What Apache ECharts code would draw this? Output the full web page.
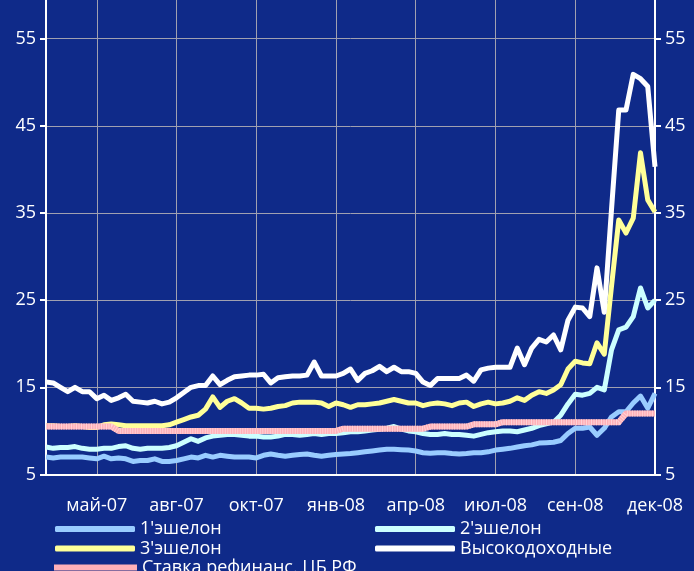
<!DOCTYPE html>
<html>
<head>
<meta charset="utf-8">
<script src="https://cdn.jsdelivr.net/npm/echarts@6/dist/echarts.min.js"></script>
<style>
html,body{margin:0;padding:0;background:#0f2a89;}
#c{width:694px;height:571px;}
</style>
</head>
<body>
<div id="c"></div>
<script>
// Weekly observations (85 weeks), labels shown every 11 weeks
const weeks = Array.from({length: 85}, (_, i) => 'w' + (i + 1));
const tickLabels = ['май-07','авг-07','окт-07','янв-08','апр-08','июл-08','сен-08','дек-08'];
const tickWeeks = [7, 18, 29, 40, 51, 62, 73, 84];
const yTicks = [5, 15, 25, 35, 45, 55];

const ech1 = [7.0,6.9,7.0,7.0,7.0,7.0,6.9,6.8,7.1,6.8,6.9,6.8,6.5,6.6,6.6,6.8,6.5,6.5,6.6,6.8,
  7.0,6.9,7.2,7.0,7.2,7.1,7.0,7.0,7.0,6.9,7.2,7.35,7.2,7.1,7.2,7.3,7.35,7.2,7.1,7.2,
  7.3,7.35,7.4,7.5,7.6,7.7,7.8,7.9,7.9,7.85,7.8,7.7,7.5,7.45,7.5,7.5,7.4,7.35,7.4,7.5,
  7.5,7.6,7.8,7.9,8.0,8.15,8.3,8.4,8.6,8.65,8.7,8.9,9.7,10.3,10.3,10.45,9.5,10.3,11.6,12.2,
  12.2,13.2,14.0,12.6,14.3];
const ech2 = [8.15,8.0,8.1,8.1,8.2,8.0,7.9,7.9,8.0,8.0,8.2,8.3,8.0,7.9,8.0,8.0,8.0,8.1,8.3,8.7,
  9.1,8.8,9.2,9.4,9.5,9.6,9.6,9.5,9.4,9.4,9.3,9.3,9.4,9.6,9.6,9.5,9.6,9.7,9.6,9.7,
  9.7,9.8,9.9,9.9,10.0,10.1,10.2,10.3,10.5,10.2,10.0,9.9,9.7,9.6,9.6,9.7,9.6,9.6,9.5,9.4,
  9.6,9.8,9.9,10.0,10.0,9.9,10.1,10.3,10.6,10.8,11.0,11.8,13.1,14.2,14.1,14.3,15.0,14.7,19.3,21.6,
  21.9,23.1,26.4,24.1,25.0];
const ech3 = [10.6,10.6,10.5,10.5,10.6,10.5,10.4,10.4,10.7,10.8,10.7,10.6,10.6,10.6,10.6,10.6,10.6,10.7,11.0,11.3,
  11.6,11.8,12.5,13.9,12.7,13.4,13.7,13.2,12.6,12.6,12.5,12.6,12.8,12.9,13.2,13.3,13.3,13.3,13.2,12.8,
  13.2,13.0,12.7,13.0,13.0,13.1,13.2,13.4,13.6,13.4,13.2,13.2,12.9,13.1,13.2,13.1,12.9,13.2,13.3,12.8,
  13.1,13.3,13.1,13.2,13.4,13.8,13.5,14.1,14.5,14.3,14.7,15.3,17.1,18.0,17.8,17.7,20.1,18.8,26.6,34.2,
  32.7,34.4,41.9,36.5,35.1];
const highYield = [15.6,15.5,15.0,14.5,15.0,14.5,14.5,13.7,14.1,13.5,13.8,14.2,13.4,13.3,13.2,13.4,13.1,13.3,13.8,14.4,
  15.0,15.2,15.2,16.3,15.3,15.8,16.2,16.3,16.4,16.4,16.5,15.5,16.1,16.2,16.3,16.3,16.4,17.9,16.3,16.3,
  16.3,16.6,17.1,15.8,16.6,16.9,17.4,16.8,17.3,16.8,16.8,16.6,15.6,15.2,16.0,16.0,16.0,16.0,16.4,15.7,
  17.0,17.2,17.3,17.3,17.3,19.5,17.6,19.5,20.5,20.2,21.0,19.3,22.7,24.2,24.1,23.1,28.7,23.6,35.4,46.8,
  46.8,50.9,50.4,49.5,40.3];
const refiRate = [10.5,10.5,10.5,10.5,10.5,10.5,10.5,10.5,10.5,10.5,10.0,10.0,10.0,10.0,10.0,10.0,10.0,10.0,10.0,10.0,
  10.0,10.0,10.0,10.0,10.0,10.0,10.0,10.0,10.0,10.0,10.0,10.0,10.0,10.0,10.0,10.0,10.0,10.0,10.0,10.0,
  10.0,10.25,10.25,10.25,10.25,10.25,10.25,10.25,10.25,10.25,10.25,10.25,10.25,10.5,10.5,10.5,10.5,10.5,10.5,10.75,
  10.75,10.75,10.75,11.0,11.0,11.0,11.0,11.0,11.0,11.0,11.0,11.0,11.0,11.0,11.0,11.0,11.0,11.0,11.0,11.0,
  12.0,12.0,12.0,12.0,12.0];

const names = ["1'эшелон", "2'эшелон", "3'эшелон", 'Высокодоходные', 'Ставка рефинанс. ЦБ РФ'];
const colors = ['#99ccff', '#ccffff', '#ffff99', '#ffffff', '#ffb0b8'];

const FONT = '"Open Sans", "Noto Sans", sans-serif';
const chart = echarts.init(document.getElementById('c'), null, {renderer: 'canvas'});

function isTick(i) { return tickWeeks.indexOf(i) >= 0; }

const yAxisBase = {
  type: 'value', min: 5, max: 60, interval: 10,
  axisLine: {show: true, lineStyle: {color: '#ffffff', width: 2}},
  axisTick: {show: true, length: 6, lineStyle: {color: '#ffffff', width: 2}},
  axisLabel: {color: '#ffffff', fontSize: 18, fontFamily: FONT, margin: 10, showMaxLabel: false,
    formatter: v => (yTicks.indexOf(v) >= 0 ? String(v) : '')}
};

const seriesData = [ech1, ech2, ech3, highYield, refiRate];

// legend cells: [name index, left, top]
const legendCells = [[0, 55, 520], [1, 375, 520], [2, 55, 539.5], [3, 375, 539.5], [4, 54, 558.5]];

const series = seriesData.map((d, k) => ({
  name: names[k], type: 'line', data: d, yAxisIndex: 0,
  symbol: 'none', smooth: false,
  itemStyle: {color: colors[k]},
  lineStyle: {color: colors[k], width: k === 4 ? 6 : 5, join: 'round', cap: 'butt'},
  z: k === 4 ? 6 : 2 + k
}));
// fine vertical stripes over the refinancing-rate line
series.push({
  name: names[4], type: 'line', data: refiRate, yAxisIndex: 0,
  symbol: 'none', itemStyle: {color: colors[4]},
  lineStyle: {color: '#ffd2d6', width: 6, type: [1, 1.5], cap: 'butt', join: 'miter'},
  z: 7, silent: true
});

chart.setOption({
  animation: false,
  backgroundColor: '#0f2a89',
  grid: {left: 46, right: 39, top: -5, bottom: 96.5, outerBoundsMode: 'none', containLabel: false},
  xAxis: {
    type: 'category', data: weeks, boundaryGap: false,
    axisLine: {show: true, lineStyle: {color: '#ffffff', width: 2}},
    axisTick: {show: false},
    axisLabel: {color: '#ffffff', fontSize: 18, fontFamily: FONT, margin: 22,
      interval: (i) => isTick(i),
      formatter: (v, i) => { const k = tickWeeks.indexOf(i); return k >= 0 ? tickLabels[k] : ''; }},
    splitLine: {show: true, interval: (i) => isTick(i), lineStyle: {color: '#a0a0b0', width: 1}}
  },
  yAxis: [
    Object.assign({}, yAxisBase, {position: 'left', splitLine: {show: true, lineStyle: {color: '#a0a0b0', width: 1}}}),
    Object.assign({}, yAxisBase, {position: 'right', splitLine: {show: false}})
  ],
  legend: legendCells.map(([k, left, top]) => ({
    data: [{name: names[k], icon: k === 4 ? 'rect' : 'roundRect'}],
    orient: 'horizontal', left: left, top: top,
    itemWidth: k === 4 ? 83 : 80, itemHeight: 6, padding: 0,
    textStyle: {color: '#ffffff', fontSize: 18, fontFamily: FONT, lineHeight: 18}
  })),
  series: series
});
</script>
</body>
</html>
